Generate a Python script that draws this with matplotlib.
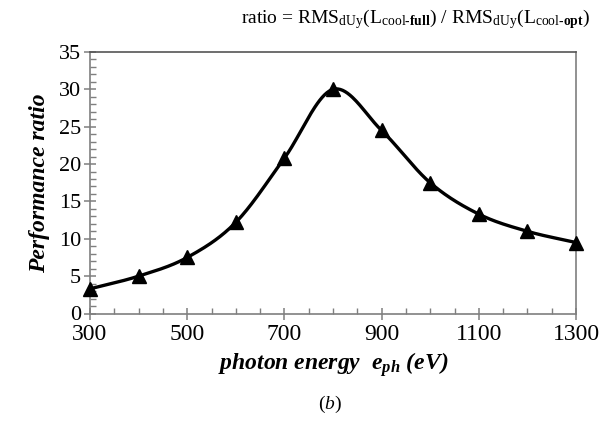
import numpy as np
import matplotlib
matplotlib.use("Agg")
import matplotlib.pyplot as plt
from matplotlib.ticker import MultipleLocator

plt.rcParams['font.family'] = ['Liberation Serif', 'DejaVu Serif']
plt.rcParams['mathtext.fontset'] = 'custom'
plt.rcParams['mathtext.rm'] = 'Liberation Serif'
plt.rcParams['mathtext.it'] = 'Liberation Serif:italic'
plt.rcParams['mathtext.bf'] = 'Liberation Serif:bold'
plt.rcParams['mathtext.bfit'] = 'Liberation Serif:italic:bold'

# data
energy = [300, 400, 500, 600, 700, 800, 900, 1000, 1100, 1200, 1300]
ratio = [3.3, 5.0, 7.5, 12.2, 20.8, 30.0, 24.5, 17.5, 13.3, 11.0, 9.5]
x_ticks = [300, 500, 700, 900, 1100, 1300]
y_ticks = [0, 5, 10, 15, 20, 25, 30, 35]


def catmull_rom(xs, ys, n=40):
    xs = np.asarray(xs, float)
    ys = np.asarray(ys, float)
    px = np.concatenate([[2 * xs[0] - xs[1]], xs, [2 * xs[-1] - xs[-2]]])
    py = np.concatenate([[2 * ys[0] - ys[1]], ys, [2 * ys[-1] - ys[-2]]])
    ox, oy = [], []
    t = np.linspace(0, 1, n, endpoint=False)
    for i in range(1, len(px) - 2):
        for p, o in ((px, ox), (py, oy)):
            p0, p1, p2, p3 = p[i - 1], p[i], p[i + 1], p[i + 2]
            m1 = (p2 - p0) / 2
            m2 = (p3 - p1) / 2
            h00 = 2 * t**3 - 3 * t**2 + 1
            h10 = t**3 - 2 * t**2 + t
            h01 = -2 * t**3 + 3 * t**2
            h11 = t**3 - t**2
            o.extend(h00 * p1 + h10 * m1 + h01 * p2 + h11 * m2)
    ox.append(xs[-1])
    oy.append(ys[-1])
    return np.array(ox), np.array(oy)


fig = plt.figure(figsize=(6.03, 4.29), dpi=100)
ax = fig.add_axes([90 / 603, (429 - 313.5) / 429, (576 - 90) / 603, (313.5 - 52) / 429])

sx, sy = catmull_rom(energy, ratio)
ax.plot(sx, sy, color='black', lw=2.4, solid_capstyle='round', clip_on=False, zorder=3)
ax.plot(energy, ratio, linestyle='none', marker='^', color='black', ms=9.5, clip_on=False, zorder=4)

ax.set_xlim(300, 1300)
ax.set_ylim(0, 35)
ax.set_xticks(x_ticks)
ax.set_yticks(y_ticks)
ax.xaxis.set_minor_locator(MultipleLocator(50))
ax.yaxis.set_minor_locator(MultipleLocator(1))

spine_col = '#7f7f7f'
for s in ax.spines.values():
    s.set_color(spine_col)
    s.set_linewidth(1.2)
ax.spines['top'].set_color('#555555')

ax.tick_params(axis='both', which='major', direction='inout', length=9, width=1.1,
               color=spine_col, labelsize=16, pad=2)
ax.tick_params(axis='both', which='minor', direction='in', length=4.5, width=1.0,
               color=spine_col)
ax.tick_params(axis='x', which='major', labelsize=17, pad=3)

ax.set_ylabel('Performance ratio', fontsize=17, fontweight='bold', fontstyle='italic', labelpad=6)
ax.set_xlabel(r'photon energy  $\mathbfit{e}_{\mathbfit{ph}}$ (eV)', fontsize=17,
              fontweight='bold', fontstyle='italic', labelpad=4)

fig.text(590 / 603, 1 - 19 / 429,
         r'ratio = RMS$_{\mathrm{dUy}}$(L$_{\mathrm{cool\text{-}}\mathbf{full}}$) / '
         r'RMS$_{\mathrm{dUy}}$(L$_{\mathrm{cool\text{-}}\mathbf{opt}}$)',
         ha='right', va='center', fontsize=14)
fig.text(330 / 603, 1 - 404 / 429, r'($\mathit{b}$)', ha='center', va='center', fontsize=14)

fig.savefig('out.png', dpi=100, facecolor='white')
